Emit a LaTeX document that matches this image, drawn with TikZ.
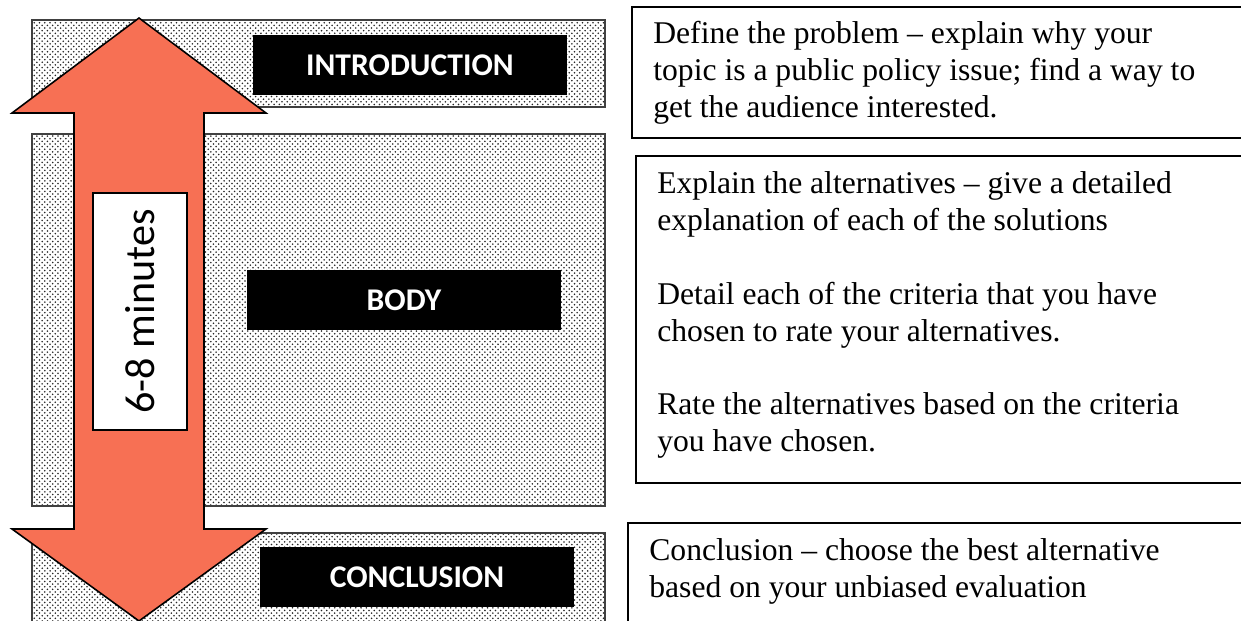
\documentclass[tikz,border=0pt]{standalone}
\usepackage{fontspec}
\setmainfont{Liberation Serif}
\newfontfamily\calibri{Carlito}
\usepackage{tikz}
\usetikzlibrary{patterns,fit}
\usepackage{xcolor}
\definecolor{arrowsalmon}{RGB}{247,112,84}

\begin{document}
\begin{tikzpicture}[
    x=0.02cm, y=-0.02cm,
    dotbox/.style={rectangle, draw=black!75, line width=1.1pt,
                   pattern=crosshatch dots, pattern color=black!85, inner sep=0pt},
    partlabel/.style={rectangle, fill=black, text=white, minimum width=6.3cm,
                      minimum height=1.2cm, font=\calibri\bfseries\fontsize{18}{21}\selectfont},
    timearrow/.style={fill=arrowsalmon, draw=black, line width=0.9pt, line join=miter},
    minbox/.style={rectangle, draw=black, fill=white, line width=0.8pt,
                   minimum width=4.74cm, minimum height=1.88cm,
                   font=\calibri\fontsize{24}{28}\selectfont},
    textframe/.style={rectangle, draw=black, line width=1pt, inner sep=0pt},
    desc/.style={align=left, inner sep=0pt, font=\fontsize{18}{21}\selectfont}
  ]
  \useasboundingbox (0,0) rectangle (1241,621);

  %% Dotted sections
  \node[dotbox, fit={(32,20) (605,107)}] (intro) {};
  \node[dotbox, fit={(32,134) (605,506)}] (body) {};
  \node[dotbox, fit={(32,533) (605,640)}] (concl) {};

  %% Section labels
  \node[partlabel] (introlbl) at (410,65) {INTRODUCTION};
  \node[partlabel] (bodylbl) at (404,300) {BODY};
  \node[partlabel] (concllbl) at (417,577) {CONCLUSION};

  %% Time arrow
  \draw[timearrow] (139,18) -- (266,113) -- (204,113) -- (204,529) -- (266,529)
        -- (139,621) -- (12,529) -- (74,529) -- (74,113) -- (12,113) -- cycle;
  \node[minbox, rotate=90] (minlbl) at (140,311.5) {6-8 minutes};

  %% Descriptions
  \node[textframe, fit={(632,7) (1260,138)}] (introbox) {};
  \node[desc, anchor=west] (introtxt) at (653,73)
        {Define the problem -- explain why your\\
         topic is a public policy issue; find a way to\\
         get the audience interested.};

  \node[textframe, fit={(636,156) (1260,483)}] (bodybox) {};
  \node[desc, anchor=west] (bodytxt) at (657,315)
        {Explain the alternatives -- give a detailed\\
         explanation of each of the solutions\\[21pt]
         Detail each of the criteria that you have\\
         chosen to rate your alternatives.\\[21pt]
         Rate the alternatives based on the criteria\\
         you have chosen.};

  \node[textframe, fit={(628,523) (1260,660)}] (conclbox) {};
  \node[desc, anchor=west] (concltxt) at (649,571.5)
        {Conclusion -- choose the best alternative\\
         based on your unbiased evaluation};

\end{tikzpicture}
\end{document}
